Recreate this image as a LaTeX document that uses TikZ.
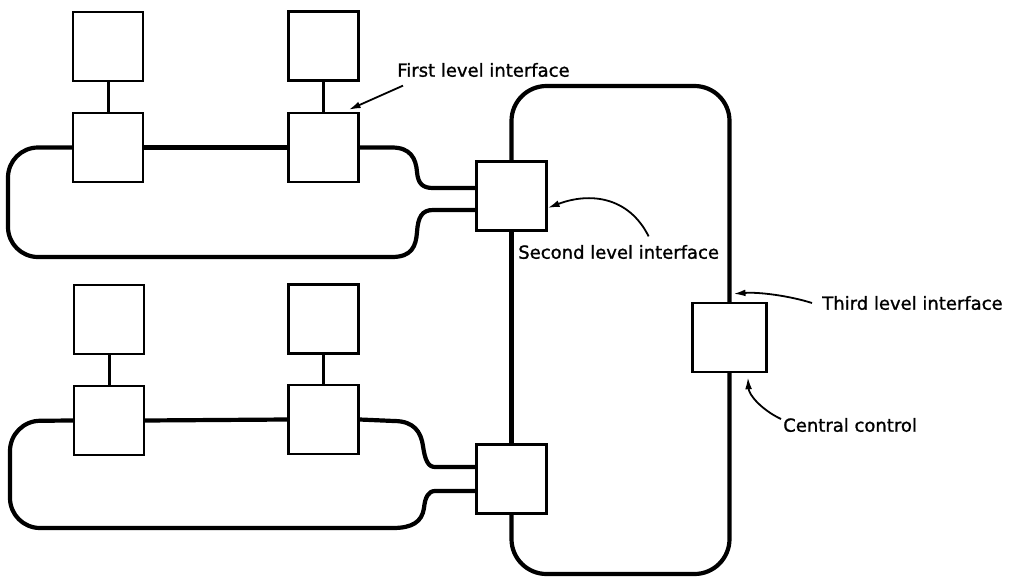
\documentclass[tikz,border=0pt]{standalone}
\usepackage{fontspec}
\setmainfont{DejaVu Sans}
\newfontfamily\notefont{DejaVu Sans}[FakeBold=1.2]
\usetikzlibrary{arrows.meta,calc}

\begin{document}
\begin{tikzpicture}[x=0.25mm,y=-0.25mm,
	unit/.style={draw,line width=0.65mm,minimum width=17.4mm,minimum height=17.2mm,inner sep=0pt},
	link/.style={line width=0.75mm},
	ring/.style={line width=1.05mm,line join=round},
	note/.style={line width=0.45mm,-{Latex[length=3mm,width=1.7mm]}},
	notetext/.style={font=\notefont\fontsize{12.8}{15}\selectfont,inner sep=0pt,anchor=west}]
	
	\useasboundingbox (0,0) rectangle (1014,577);
	
	\foreach \n/\x/\y in {a1/108/46.5,a2/323.5/46,b1/108/147.5,b2/323.5/147.5,
		d1/109/319.5,d2/323.5/319,e1/109/420.5,e2/323.5/419.5,
		s1/511.5/196,s2/511.5/479}
	\node[unit] (\n) at (\x,\y) {};
	
	\node[unit,minimum width=18.4mm] (cc) at (729.5,337.5) {};
	
	\foreach \t/\b in {a1/b1,a2/b2,d1/e1,d2/e2}
	\draw[link] (\t) -- (\b);
	
	% first ring
	\draw[ring] (b1.east) -- (b2.west);
	\draw[ring] (b2.east) -- (392,147.5)
	.. controls (410,147.5) and (416,158) .. (417,172)
	.. controls (418,184) and (423,188) .. (433,188)
	-- (s1.west |- 0,188);
	\draw[ring] (s1.west |- 0,210) -- (433,210)
	.. controls (422,210) and (418,217) .. (417,232)
	.. controls (416,246) and (412,257) .. (392,257)
	[rounded corners=7.5mm] -- (8,257) -- (8,147.5) -- (b1.west);
	
	% second ring
	\draw[ring] (e1.east) -- (e2.west);
	\draw[ring] (e2.east) -- (394,421)
	.. controls (414,421) and (421,432) .. (423,446)
	.. controls (425,460) and (428,467) .. (435,467)
	-- (s2.west |- 0,467);
	\draw[ring] (s2.west |- 0,491) -- (435,491)
	.. controls (428,491) and (425,498) .. (424,508)
	.. controls (422,522) and (412,528) .. (393,528)
	[rounded corners=7.5mm] -- (10,528) -- (10,421) -- (e1.west);
	
	% third ring
	\draw[ring] (s1.north) [rounded corners=8.75mm] -- (s1.north |- 0,86) -- (cc.north |- 0,86) -- (cc.north);
	\draw[ring] (cc.south) [rounded corners=8.75mm] -- (cc.south |- 0,574) -- (s2.south |- 0,574) -- (s2.south);
	\draw[ring] (s1.south) -- (s2.north);
	
	\node[notetext] (t1) at (397,70) {First level interface};
	\node[notetext] (t2) at (518,252) {Second level interface};
	\node[notetext] (t3) at (822,303) {Third level interface};
	\node[notetext] (t4) at (783,425) {Central control};
	
	\draw[note] ([xshift=1.5mm,yshift=-2.1mm]t1.south west) -- ([xshift=-2.75mm,yshift=0.5mm]b2.north east);
	\draw[note] ([xshift=7.5mm,yshift=2.1mm]t2.north)
	.. controls +(-5mm,10mm) and +(10.5mm,4mm) .. ([yshift=-3mm]s1.east);
	\draw[note] ([xshift=-2.5mm]t3.west)
	.. controls +(-5.5mm,1.75mm) and +(6.5mm,0.5mm) .. ([xshift=1mm,yshift=2mm]cc.north);
	\draw[note] ([xshift=-0.5mm,yshift=1.5mm]t4.west)
	.. controls +(-4.75mm,2.25mm) and +(0.25mm,-4.5mm) .. ([xshift=4.6mm,yshift=-1mm]cc.south);
	
\end{tikzpicture}
\end{document}
